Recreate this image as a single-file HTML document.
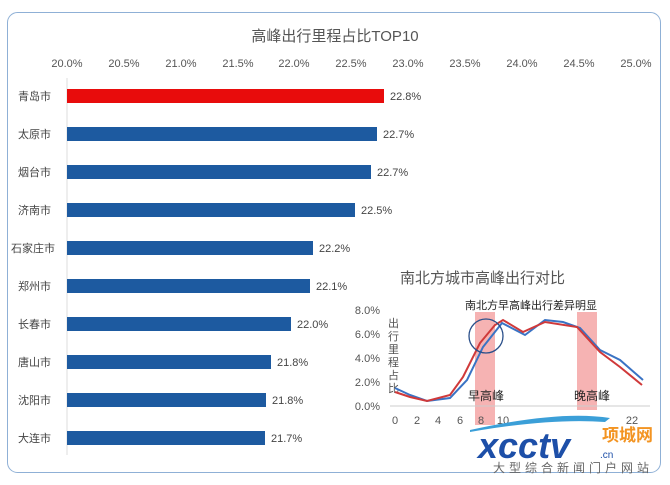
<!DOCTYPE html>
<html><head><meta charset="utf-8"><style>
body{margin:0;background:#fff;width:670px;height:480px;overflow:hidden;font-family:"Liberation Sans","Noto Sans CJK SC",sans-serif;}
svg text{font-family:"Liberation Sans","Noto Sans CJK SC",sans-serif;}
</style></head><body>
<svg width="670" height="480" viewBox="0 0 670 480">
<rect x="7.5" y="12.5" width="653" height="460" rx="10" fill="#fff" stroke="#8fb0d6" stroke-width="1"/>
<text x="335" y="41" font-size="15" fill="#555" text-anchor="middle">高峰出行里程占比TOP10</text>
<g font-size="11" fill="#555" text-anchor="middle">
<text x="67" y="67">20.0%</text><text x="124" y="67">20.5%</text><text x="181" y="67">21.0%</text><text x="238" y="67">21.5%</text><text x="294" y="67">22.0%</text><text x="351" y="67">22.5%</text><text x="408" y="67">23.0%</text><text x="465" y="67">23.5%</text><text x="522" y="67">24.0%</text><text x="579" y="67">24.5%</text><text x="636" y="67">25.0%</text>
</g>
<line x1="67" y1="78" x2="67" y2="455" stroke="#ddd"/>
<g font-size="11" fill="#444">
<rect x="67" y="89" width="317" height="14" fill="#e80c0c"/><text x="18" y="100">青岛市</text><text x="390" y="100">22.8%</text>
<rect x="67" y="127" width="310" height="14" fill="#1d5aa0"/><text x="18" y="138">太原市</text><text x="383" y="138">22.7%</text>
<rect x="67" y="165" width="304" height="14" fill="#1d5aa0"/><text x="18" y="176">烟台市</text><text x="377" y="176">22.7%</text>
<rect x="67" y="203" width="288" height="14" fill="#1d5aa0"/><text x="18" y="214">济南市</text><text x="361" y="214">22.5%</text>
<rect x="67" y="241" width="246" height="14" fill="#1d5aa0"/><text x="11" y="252">石家庄市</text><text x="319" y="252">22.2%</text>
<rect x="67" y="279" width="243" height="14" fill="#1d5aa0"/><text x="18" y="290">郑州市</text><text x="316" y="290">22.1%</text>
<rect x="67" y="317" width="224" height="14" fill="#1d5aa0"/><text x="18" y="328">长春市</text><text x="297" y="328">22.0%</text>
<rect x="67" y="355" width="204" height="14" fill="#1d5aa0"/><text x="18" y="366">唐山市</text><text x="277" y="366">21.8%</text>
<rect x="67" y="393" width="199" height="14" fill="#1d5aa0"/><text x="18" y="404">沈阳市</text><text x="272" y="404">21.8%</text>
<rect x="67" y="431" width="198" height="14" fill="#1d5aa0"/><text x="18" y="442">大连市</text><text x="271" y="442">21.7%</text>
</g>
<!-- inset -->
<text x="400" y="283" font-size="15" fill="#555">南北方城市高峰出行对比</text>
<text x="465" y="309" font-size="11" fill="#222">南北方早高峰出行差异明显</text>
<rect x="475" y="312" width="20" height="113" fill="#f4a6a6" opacity="0.85"/>
<rect x="577" y="312" width="20" height="98" fill="#f4a6a6" opacity="0.85"/>
<g font-size="11" fill="#555" text-anchor="end">
<text x="380" y="314">8.0%</text><text x="380" y="338">6.0%</text><text x="380" y="362">4.0%</text><text x="380" y="386">2.0%</text><text x="380" y="410">0.0%</text>
</g>
<g font-size="11" fill="#555"><text x="388" y="327">出</text><text x="388" y="340">行</text><text x="388" y="353">里</text><text x="388" y="366">程</text><text x="388" y="379">占</text><text x="388" y="392">比</text></g>
<line x1="390" y1="406" x2="650" y2="406" stroke="#ccc"/>
<g font-size="11" fill="#555" text-anchor="middle">
<text x="395" y="424">0</text><text x="417" y="424">2</text><text x="438" y="424">4</text><text x="460" y="424">6</text><text x="481" y="424">8</text><text x="503" y="424">10</text><text x="632" y="424">22</text>
</g>
<polyline fill="none" stroke="#3a73c4" stroke-width="2" points="395,388 410,395 427,401 450,398 467,380 483,347 502,323 525,335 545,320 563,322 580,328 600,350 620,360 643,380"/>
<polyline fill="none" stroke="#d0393a" stroke-width="2" points="395,392 410,397 427,401 450,395 463,377 480,343 495,325 503,320 523,332 545,322 577,327 600,352 620,367 642,385"/>
<circle cx="486" cy="336" r="17" fill="none" stroke="#2a4f8a" stroke-width="1.3"/>
<text x="468" y="400" font-size="12" fill="#222">早高峰</text>
<text x="574" y="400" font-size="12" fill="#222">晚高峰</text>
<!-- logo -->
<path d="M470 430 Q560 410 610 418 L605 422 Q550 418 470 432Z" fill="#3b9fd8"/>
<text x="478" y="458" font-size="36" font-weight="bold" fill="#1d4fa8" font-style="italic">xcctv</text>
<text x="600" y="458" font-size="10" fill="#1d4fa8">.cn</text>
<text x="602" y="441" font-size="17" font-weight="bold" fill="#f39422">项城网</text>
<text x="493" y="472" font-size="12" fill="#666" letter-spacing="4">大型综合新闻门户网站</text>
</svg>
</body></html>
